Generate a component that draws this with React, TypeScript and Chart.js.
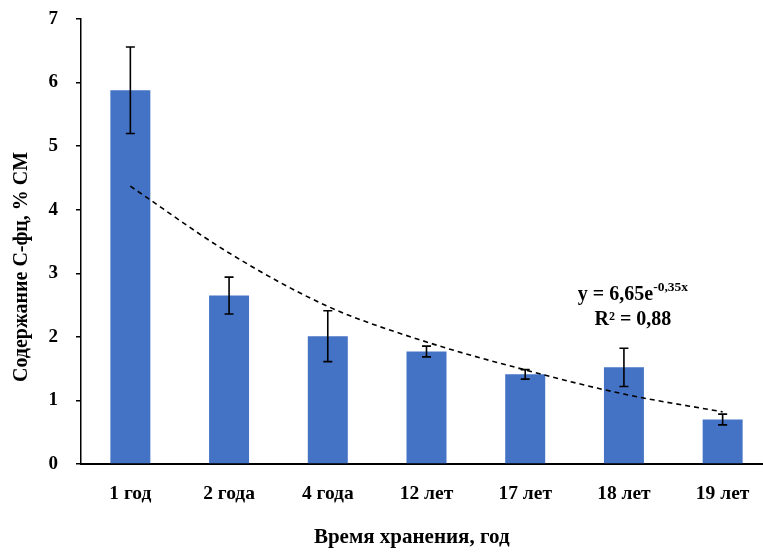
import { useEffect, useRef } from "react";
import { Chart, registerables } from "chart.js";
Chart.register(...registerables);

const categories = ["1 год", "2 года", "4 года", "12 лет", "17 лет", "18 лет", "19 лет"];
const values = [5.88, 2.65, 2.01, 1.77, 1.41, 1.52, 0.7];
const errors = [0.68, 0.29, 0.4, 0.085, 0.075, 0.3, 0.085];
const trend = [4.37, 3.32, 2.48, 1.92, 1.48, 1.1, 0.82];
const yMin = 0;
const yMax = 7;
const equationMain = "y = 6,65e";
const equationSup = "-0,35x";
const rSquared = "R² = 0,88";
const yTitle = "Содержание С-фц, % СМ";
const xTitle = "Время хранения, год";

const FONT = "'Liberation Serif', 'Times New Roman', serif";

const errorBarPlugin = {
  id: "errorBars",
  afterDatasetsDraw(chart: any) {
    const meta = chart.getDatasetMeta(0);
    const y = chart.scales.y;
    const ctx = chart.ctx;
    ctx.save();
    ctx.strokeStyle = "#000";
    ctx.lineWidth = 1.6;
    meta.data.forEach((el: any, i: number) => {
      const x = el.x;
      const top = y.getPixelForValue(values[i] + errors[i]);
      const bot = y.getPixelForValue(values[i] - errors[i]);
      ctx.beginPath();
      ctx.moveTo(x, top);
      ctx.lineTo(x, bot);
      ctx.moveTo(x - 4.5, top);
      ctx.lineTo(x + 4.5, top);
      ctx.moveTo(x - 4.5, bot);
      ctx.lineTo(x + 4.5, bot);
      ctx.stroke();
    });
    ctx.restore();
  },
};

const textPlugin = {
  id: "texts",
  afterDraw(chart: any) {
    const ctx = chart.ctx;
    const xs = chart.scales.x;
    const ys = chart.scales.y;
    const cx = xs.getPixelForValue(5) + 9;
    const y1 = ys.getPixelForValue(2.66);
    const y2 = ys.getPixelForValue(2.27);
    ctx.save();
    ctx.fillStyle = "#000";
    ctx.textBaseline = "middle";
    const mainFont = `bold 20px ${FONT}`;
    const supFont = `bold 13.5px ${FONT}`;
    ctx.font = mainFont;
    const w1 = ctx.measureText(equationMain).width;
    ctx.font = supFont;
    const w2 = ctx.measureText(equationSup).width;
    const start = cx - (w1 + w2) / 2;
    ctx.font = mainFont;
    ctx.textAlign = "left";
    ctx.fillText(equationMain, start, y1);
    ctx.font = supFont;
    ctx.fillText(equationSup, start + w1, y1 - 7);
    ctx.font = mainFont;
    ctx.textAlign = "center";
    ctx.fillText(rSquared, cx, y2);

    // axis titles
    ctx.font = `bold 21px ${FONT}`;
    ctx.textAlign = "center";
    ctx.fillText(xTitle, xs.getPixelForValue(2.85), 538);
    ctx.save();
    ctx.translate(22, ys.getPixelForValue(3.1));
    ctx.rotate(-Math.PI / 2);
    ctx.font = `bold 20px ${FONT}`;
    ctx.fillText(yTitle, 0, 0);
    ctx.restore();
    ctx.restore();
  },
};

export default function App() {
  const ref = useRef<HTMLCanvasElement | null>(null);
  useEffect(() => {
    if (!ref.current) return;
    const chart = new Chart(ref.current, {
      type: "bar",
      data: {
        labels: categories,
        datasets: [
          {
            type: "bar",
            data: values,
            backgroundColor: "#4472C4",
            barPercentage: 0.405,
            categoryPercentage: 1,
            order: 2,
          },
          {
            type: "line",
            data: trend,
            borderColor: "#000",
            borderWidth: 1.6,
            borderDash: [5, 4],
            pointRadius: 0,
            tension: 0.4,
            cubicInterpolationMode: "monotone",
            fill: false,
            order: 1,
          } as any,
        ],
      },
      options: {
        responsive: false,
        animation: false,
        layout: { padding: { top: 19, right: 18, left: 0, bottom: 0 } },
        plugins: { legend: { display: false }, tooltip: { enabled: false } },
        scales: {
          x: {
            grid: { display: true, drawOnChartArea: false, drawTicks: false },
            border: { display: true, color: "#000", width: 2 },
            ticks: {
              color: "#000",
              padding: 18,
              font: { family: FONT, size: 19.5, weight: "bold" },
            },
            afterFit(scale: any) {
              scale.height = 88;
            },
          },
          y: {
            min: yMin,
            max: yMax,
            grid: { display: true, drawOnChartArea: false, drawTicks: true, tickLength: 5, color: "#000", lineWidth: 1.5 },
            border: { display: true, color: "#000", width: 1.5 },
            ticks: {
              stepSize: 1,
              color: "#000",
              padding: 18,
              font: { family: FONT, size: 19, weight: "bold" },
            },
            afterFit(scale: any) {
              scale.width = 81;
              scale.paddingTop = 0;
              scale.paddingBottom = 0;
            },
          },
        },
      },
      plugins: [errorBarPlugin, textPlugin],
    });
    return () => chart.destroy();
  }, []);
  return (
    <div style={{ position: "fixed", left: 0, top: 0, width: 763, height: 552, overflow: "hidden", background: "#fff" }}>
      <canvas ref={ref} width={790} height={552} style={{ width: 790, height: 552, display: "block" }} />
    </div>
  );
}
